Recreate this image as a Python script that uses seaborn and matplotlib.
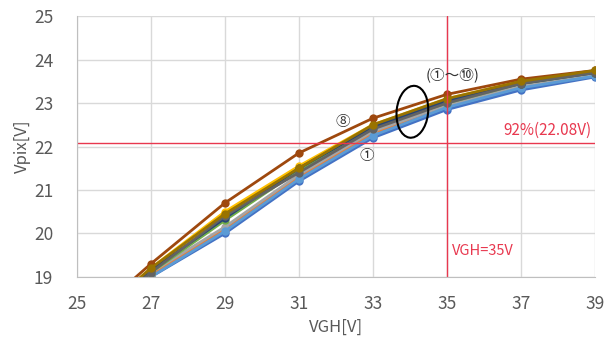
import pandas as pd
import matplotlib
matplotlib.use('Agg')
import matplotlib.pyplot as plt
from matplotlib.patches import Ellipse
import seaborn as sns

# VGH sweep [V]
vgh = [25, 27, 29, 31, 33, 35, 37, 39]

# Vpix [V] for the ten samples (1..10)
s1 = [17.4, 19.00, 20.00, 21.20, 22.20, 22.85, 23.30, 23.60]
s2 = [17.5, 19.05, 20.10, 21.30, 22.30, 22.95, 23.38, 23.65]
s3 = [17.5, 19.10, 20.15, 21.35, 22.35, 22.95, 23.40, 23.65]
s4 = [17.7, 19.20, 20.50, 21.55, 22.50, 23.10, 23.50, 23.72]
s5 = [17.4, 19.00, 20.05, 21.25, 22.25, 22.90, 23.35, 23.62]
s6 = [17.6, 19.10, 20.30, 21.45, 22.45, 23.00, 23.45, 23.70]
s7 = [17.6, 19.15, 20.35, 21.50, 22.45, 23.05, 23.45, 23.70]
s8 = [17.8, 19.30, 20.70, 21.85, 22.65, 23.20, 23.55, 23.75]
s9 = [17.6, 19.10, 20.40, 21.40, 22.40, 23.00, 23.45, 23.70]
s10 = [17.7, 19.20, 20.45, 21.50, 22.50, 23.10, 23.50, 23.75]

series = [s1, s2, s3, s4, s5, s6, s7, s8, s9, s10]
names = ['①', '②', '③', '④', '⑤', '⑥', '⑦', '⑧', '⑨', '⑩']
colors = ['#4472C4', '#ED7D31', '#A5A5A5', '#FFC000', '#5B9BD5',
          '#70AD47', '#264478', '#9E480E', '#636363', '#997300']

target_v = 22.08
target_vgh = 35

rows = []
for name, vals in zip(names, series):
    for x, y in zip(vgh, vals):
        rows.append({'VGH': x, 'Vpix': y, 'sample': name})
df = pd.DataFrame(rows)

sns.set_style('whitegrid')
plt.rcParams['font.family'] = ['Noto Sans CJK JP', 'DejaVu Sans']

fig = plt.figure(figsize=(6.05, 3.44), dpi=100)
ax = fig.add_axes([0.127, 0.195, 0.856, 0.758])

sns.lineplot(data=df, x='VGH', y='Vpix', hue='sample', palette=colors,
             marker='o', markersize=6, markeredgewidth=0, linewidth=2,
             legend=False, ax=ax)

ax.axhline(target_v, color='#E8384F', linewidth=1)
ax.axvline(target_vgh, color='#E8384F', linewidth=1)

ax.set_xlim(25, 39)
ax.set_ylim(19, 25)
ax.set_xticks(range(25, 40, 2))
ax.set_yticks(range(19, 26))
ax.grid(True, color='#D9D9D9', linewidth=1)
for sp in ['top', 'right']:
    ax.spines[sp].set_visible(False)
for sp in ['left', 'bottom']:
    ax.spines[sp].set_color('#BFBFBF')
ax.tick_params(axis='both', labelsize=12.5, colors='#595959', length=0)
ax.tick_params(axis='x', pad=13)
ax.tick_params(axis='y', pad=17)

ax.set_xlabel('VGH[V]', fontsize=12, color='#595959', labelpad=4)
ax.set_ylabel('Vpix[V]', fontsize=12, color='#595959', labelpad=2)

ax.text(38.9, 22.38, '92%(22.08V)', color='#E8384F', fontsize=11, ha='right', va='center')
ax.text(35.15, 19.6, 'VGH=35V', color='#E8384F', fontsize=10.5, ha='left', va='center')
ax.text(32.2, 22.56, '⑧', fontsize=10.5, ha='center', va='center', color='#333333')
ax.text(32.85, 21.78, '①', fontsize=10.5, ha='center', va='center', color='#333333')
ax.text(35.15, 23.65, '(①〜⑩)', fontsize=10.5, ha='center', va='center', color='#333333')
ax.add_patch(Ellipse((34.07, 22.8), 0.85, 1.2, angle=-8, fill=False,
                     edgecolor='black', linewidth=1.5, zorder=5))

fig.savefig('out.png', dpi=100)
